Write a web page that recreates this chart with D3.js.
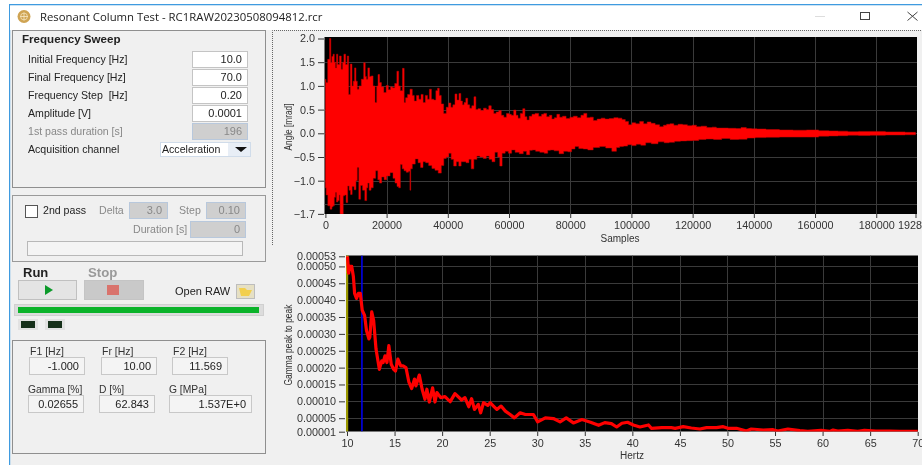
<!DOCTYPE html>
<html><head><meta charset="utf-8">
<script src="https://cdn.jsdelivr.net/npm/d3@7"></script>
<style>
html,body{margin:0;padding:0;background:#fff;overflow:hidden}
svg{display:block;filter:blur(0.45px)}
text{font-family:"Liberation Sans",Arial,sans-serif;font-size:10.5px;fill:#222}
</style></head><body>
<svg id="c" width="922" height="465"></svg>
<script>
// ---------- Angle signal envelope [sample, mrad] ----------
const upperEnvelope=[[0,1.14],[420,1.07],[1090,1.56],[1630,2.0],[1900,1.49],[2300,1.62],[2700,1.67],[3100,1.5],[3480,1.38],[3800,1.67],[4300,1.45],[4900,1.63],[5440,1.35],[5800,1.5],[6300,1.67],[6900,1.45],[7400,1.63],[7800,0.82],[8470,1.46],[8900,1.0],[9300,1.1],[9770,1.38],[10200,1.1],[10640,0.93],[11300,1.0],[12190,1.14],[12840,1.49],[13200,1.2],[13590,1.14],[14150,1.38],[14700,1.2],[15240,1.21],[15900,1.0],[16530,0.65],[17000,1.0],[17400,1.24],[18000,1.07],[18600,0.98],[19580,0.86],[20120,1.01],[21000,0.92],[21600,0.98],[22300,0.96],[23000,1.05],[23720,1.31],[24150,1.0],[24800,0.9],[25580,1.37],[25900,0.65],[26500,0.75],[27200,0.82],[28070,0.93],[28700,0.8],[29370,0.68],[30200,0.8],[30900,0.72],[31570,0.82],[32300,0.65],[33000,0.8],[33700,0.72],[34280,0.93],[35000,0.72],[35800,0.7],[36400,0.9],[36900,0.95],[37500,0.8],[38200,0.62],[39080,0.42],[39900,0.55],[40700,0.64],[41300,0.55],[42000,0.6],[42680,0.83],[43300,0.7],[43990,0.84],[44500,0.68],[45070,0.6],[45600,0.65],[46180,0.74],[46800,0.6],[47480,0.53],[48200,0.58],[48890,0.77],[49440,0.5],[50300,0.52],[51200,0.48],[52150,0.53],[53000,0.5],[53790,0.58],[54600,0.5],[55420,0.42],[56200,0.45],[57060,0.48],[57900,0.38],[58690,0.34],[59670,0.42],[60400,0.4],[61100,0.38],[61960,0.49],[62600,0.38],[63280,0.32],[64100,0.42],[64900,0.52],[65500,0.35],[66200,0.28],[67000,0.36],[68000,0.4],[69060,0.42],[70300,0.36],[71000,0.4],[71770,0.42],[72800,0.35],[73600,0.38],[74400,0.3],[75200,0.33],[76060,0.4],[77000,0.34],[78000,0.36],[79300,0.31],[80500,0.34],[81600,0.36],[83000,0.33],[84000,0.38],[84860,0.42],[86000,0.33],[87000,0.34],[88100,0.27],[89500,0.3],[90700,0.32],[92000,0.3],[93500,0.31],[95000,0.33],[96300,0.32],[97500,0.29],[98500,0.25],[99600,0.18],[100800,0.22],[102000,0.2],[103400,0.25],[104500,0.2],[105800,0.24],[107000,0.21],[108500,0.18],[109900,0.14],[111000,0.17],[112000,0.19],[113200,0.2],[114500,0.17],[116000,0.19],[117500,0.18],[119100,0.16],[120500,0.17],[122000,0.14],[123500,0.15],[125700,0.12],[127000,0.13],[128500,0.11],[130000,0.11],[133300,0.105],[135000,0.1],[136600,0.12],[138500,0.1],[140000,0.095],[142000,0.09],[146000,0.08],[150700,0.07],[155000,0.065],[159400,0.07],[163000,0.055],[166000,0.05],[169000,0.045],[172400,0.035],[176000,0.04],[180000,0.04],[186000,0.03],[192830,0.02]];
const lowerEnvelope=[[0,-1.15],[500,-1.3],[1090,-1.53],[1960,-1.6],[2300,-1.55],[2700,-1.53],[3100,-1.35],[3480,-1.25],[3800,-1.45],[4300,-1.42],[4700,-1.3],[4870,-1.7],[5650,-1.7],[6000,-1.32],[6500,-1.3],[7060,-1.46],[7500,-1.11],[8000,-1.2],[8470,-1.29],[9000,-1.12],[9770,-1.19],[10200,-1.0],[10640,-0.72],[11200,-1.39],[11800,-1.1],[12500,-1.2],[13270,-1.42],[13700,-1.15],[14000,-1.05],[14600,-1.2],[15240,-1.15],[16000,-0.95],[16860,-0.79],[17400,-0.98],[18000,-1.05],[18800,-0.92],[19580,-0.98],[20500,-0.9],[21770,-0.83],[22400,-0.95],[23100,-1.05],[23700,-1.12],[24200,-1.15],[24800,-0.66],[25400,-0.75],[26000,-0.79],[26800,-0.82],[27500,-0.8],[27750,-1.2],[28000,-0.75],[28800,-0.65],[29900,-0.54],[30700,-0.62],[31500,-0.72],[32300,-0.6],[33200,-0.62],[34300,-0.68],[35300,-0.74],[36300,-0.78],[37450,-0.84],[38300,-0.68],[39080,-0.53],[39900,-0.5],[40700,-0.42],[41500,-0.55],[42350,-0.69],[43200,-0.6],[44000,-0.69],[44700,-0.6],[45400,-0.6],[46500,-0.62],[47300,-0.55],[48000,-0.75],[49000,-0.55],[50000,-0.48],[51000,-0.5],[52150,-0.53],[53000,-0.48],[54000,-0.55],[54870,-0.6],[55900,-0.4],[56700,-0.5],[57280,-0.69],[58200,-0.42],[59300,-0.38],[60300,-0.42],[61400,-0.35],[62600,-0.4],[64100,-0.43],[65200,-0.38],[66300,-0.45],[67200,-0.36],[68000,-0.35],[69400,-0.38],[70700,-0.4],[72300,-0.42],[73000,-0.36],[74000,-0.35],[75500,-0.37],[77200,-0.43],[78500,-0.38],[79900,-0.39],[81000,-0.33],[82100,-0.28],[83500,-0.32],[85000,-0.33],[86500,-0.35],[88500,-0.3],[90700,-0.28],[92500,-0.31],[94700,-0.38],[95500,-0.3],[96800,-0.28],[98000,-0.27],[99500,-0.24],[100800,-0.26],[102300,-0.23],[103800,-0.25],[105500,-0.2],[107500,-0.22],[109900,-0.18],[111500,-0.2],[113200,-0.19],[115000,-0.17],[117000,-0.16],[119100,-0.155],[121000,-0.15],[123000,-0.13],[125700,-0.12],[128000,-0.13],[131000,-0.11],[133500,-0.13],[136600,-0.125],[139000,-0.1],[142000,-0.09],[146000,-0.085],[150700,-0.08],[155000,-0.08],[159400,-0.08],[163000,-0.06],[166000,-0.055],[169000,-0.05],[172400,-0.04],[176000,-0.045],[180000,-0.04],[186000,-0.035],[192830,-0.03]];
const angleTicks=[2,1.5,1,0.5,0,-0.5,-1,-1.7];
const angleGrid=[1.5,1,0.5,0,-0.5,-1,-1.5];
const sampleTicks=[0,20000,40000,60000,80000,100000,120000,140000,160000,180000,192830];
// ---------- Gamma curve (Hz, gamma) ----------
const hertz=[10.05,10.17,10.3,10.5,10.67,10.8,11,11.2,11.4,11.6,11.85,12.05,12.3,12.4,12.6,12.8,13.05,13.4,13.65,13.8,14,14.2,14.4,14.65,14.9,15.1,15.35,15.65,15.9,16.2,16.5,16.8,17.1,17.25,17.6,17.9,18.2,18.4,18.65,19,19.25,19.45,19.85,20.3,20.85,21.35,22.05,22.4,22.8,23.1,23.4,23.8,24.05,24.35,24.8,25.05,25.4,25.75,26.2,26.65,27.15,27.6,28.2,28.75,29.6,30.05,30.85,31.7,32.4,33.05,33.8,34.7,35.6,36.45,37.1,37.8,38.35,38.9,39.5,40.1,40.8,41.7,42,43.1,44.1,44.5,45.35,46.2,47.1,47.8,48.85,49.55,50.05,50.95,52,52.5,53.75,54.8,55.3,56.35,57.6,58.45,59.85,60.75,61.1,61.6,62.65,63.7,64.4,65.6,67,68.1,70];
const gamma=[.00053,.00048,.0005,.0005,.00047,.00042,.000405,.00042,.00042,.00037,.000355,.00031,.000285,.00029,.000365,.00034,.000255,.000195,.00022,.000215,.000235,.000215,.000265,.00021,.000195,.00019,.000225,.000205,.000205,.0002,.000158,.000138,.000166,.000146,.000178,.000136,.000106,.000136,.000098,.00014,.000098,.000126,.000111,.000114,.000099,.000123,.000104,.000111,.000084,.000108,.000076,.000091,.000066,.000096,.000088,.000096,.000086,.000076,.000086,.000071,.000061,.000051,.000066,.000061,.000061,.000039,.000051,.000049,.000039,.000051,.000036,.000046,.000038,.000029,.000037,.000034,.000024,.000035,.000038,.00003,.000024,.00003,.00002,.000022,.000022,.00002,.000025,.000021,.000018,.000022,.000022,.000025,.00002,.00002,.000012,.000018,.000015,.000016,.000012,.000018,.000013,.000011,.000014,.000011,.000015,.000012,.000014,.000011,.000014,.000012,.000012,.000011,.000011];
const gammaTicks=[.00053,.0005,.00045,.0004,.00035,.0003,.00025,.0002,.00015,.0001,.00005,.00001];
const gammaGrid=[.0005,.00045,.0004,.00035,.0003,.00025,.0002,.00015,.0001,.00005];
const hertzTicks=[10,15,20,25,30,35,40,45,50,55,60,65,70];
const cursorF1=10, cursorF2=11.569;
// ---------- Panel texts ----------
const windowTitle="Resonant Column Test - RC1RAW20230508094812.rcr";
const sweepLabels=["Initial Frequency [Hz]","Final Frequency [Hz]","Frequency Step  [Hz]","Amplitude [V]","1st pass duration [s]"];
const sweepValues=["10.0","70.0","0.20","0.0001","196"];
const resultTop=[["F1 [Hz]","-1.000"],["Fr [Hz]","10.00"],["F2 [Hz]","11.569"]];
const resultBottom=[["Gamma [%]","0.02655"],["D [%]","62.843"],["G [MPa]","1.537E+0"]];

const svg=d3.select("#c");
const R=(x,y,w,h,f,s)=>svg.append("rect").attr("x",x).attr("y",y).attr("width",w).attr("height",h).attr("fill",f||"none").attr("stroke",s||"none");
const T=(x,y,t,o={})=>svg.append("text").attr("x",x).attr("y",y).text(t)
  .style("fill",o.fill||"#222").style("font-size",(o.size||10.5)+"px").style("font-weight",o.bold?"bold":"normal")
  .style("font-family",o.family||null).style("white-space","pre").attr("text-anchor",o.anchor||"start");
const Box=(x,y,w,h,t,o={})=>{R(x+.5,y+.5,w,h,o.fill||"#fff",o.stroke||"#c4c4c4");
  if(t!==undefined)T(x+w-5,y+h-4,t,{anchor:"end",fill:o.tc||"#222",size:o.size||11});};

// Window chrome
R(9,4,913,461,"#f0f0f0");
R(9,4,913,1.5,"#3f9be0");
R(9,4,1.2,461,"#3f9be0");
R(10,5.5,912,24.5,"#fff");
const ic=svg.append("g").attr("transform","translate(24,16.5)");
ic.append("circle").attr("r",6.5).attr("fill","#cfa453");
ic.append("circle").attr("r",3.4).attr("fill","none").attr("stroke","#f4e3bd").attr("stroke-width",.8);
ic.append("path").attr("d","M-4 0H4M0 -4V4").attr("stroke","#f4e3bd").attr("stroke-width",.9);
T(40,21,windowTitle,{size:11.35,family:"'Open Sans'",fill:"#222"});
svg.append("path").attr("d","M815 16.5H825").attr("stroke","#ddd");
R(860.5,12.5,9,7,"none","#444");
svg.append("path").attr("d","M907.5 12L917.5 20.5M917.5 12L907.5 20.5").attr("stroke","#444");
svg.append("path").attr("d","M272.5 245V30.5H922").attr("fill","none").attr("stroke","#666").attr("stroke-dasharray","1 1");

// Frequency sweep panel
R(12.5,30.5,253,157,"#f0f0f0","#8f8f8f");
T(22,43,"Frequency Sweep",{bold:true,size:11.6});
const rowY=[51,69,87,105,123];
sweepLabels.forEach((l,i)=>{
  T(28,rowY[i]+12,l,{fill:i==4?"#888":"#222",size:10.6});
  Box(192,rowY[i],55,16,sweepValues[i],i==4?{fill:"#cfcfcf",stroke:"#b8c8dc",tc:"#888"}:{});
});
T(28,153,"Acquisition channel",{size:10.6});
R(160.5,142.5,90,14,"#fff","#d0dcea");
R(228,143,22,13,"#e8eef6");
T(162,153,"Acceleration",{size:10.6});
svg.append("path").attr("d","M235 147H247L241 152Z").attr("fill","#111");

// 2nd pass panel
R(12.5,195.5,253,66,"#f0f0f0","#9a9a9a");
R(25.5,205.5,12,12,"#fff","#555");
T(43,214,"2nd pass",{size:10.6});
T(99,214,"Delta",{fill:"#888",size:10.6});
Box(129,202,38,16,"3.0",{fill:"#cfcfcf",stroke:"#b8c8dc",tc:"#888"});
T(179,214,"Step",{fill:"#888",size:10.6});
Box(206,202,39,16,"0.10",{fill:"#cfcfcf",stroke:"#b8c8dc",tc:"#888"});
T(133,233,"Duration [s]",{fill:"#888",size:10.6});
Box(190,221,55,16,"0",{fill:"#cfcfcf",stroke:"#b8c8dc",tc:"#888"});
R(27.5,241.5,215,14,"#f4f4f4","#b8b8b8");

// Run controls
T(23,277,"Run",{bold:true,size:13});
T(88,277,"Stop",{bold:true,size:13.2,fill:"#999"});
R(18.5,280.5,58,19,"#e4e4e4","#c0c0c0");
R(84.5,280.5,59,19,"#c9c9c9","#c4c4c4");
svg.append("path").attr("d","M45 285V295L53 290Z").attr("fill","#0c9a2a");
R(107,285,12,10,"#d9736c");
T(175,295,"Open RAW",{size:11});
R(236.5,284.5,18,14,"#e6e0c4","#bdbdbd");
svg.append("path").attr("d","M239 288H245L247 290H252L249 296H241Z").attr("fill","#f2cf4e");
R(14.5,304.5,249,11,"#dcdcdc","#d0d0d0");
R(18,307,241,6,"#0bb32a");
[18,45].forEach(x=>{R(x,319,20,11,"#e2e2e2");R(x+3,321,14,7,"#16301a");});

// Results panel
R(12.5,340.5,253,113,"#f0f0f0","#8f8f8f");
const topX=[29,101,172], botX=[28,99,169], botW=[55,55,82];
resultTop.forEach((d,i)=>{T(topX[i]+1,355,d[0],{size:10.5,fill:"#333"});Box(topX[i],357,55,17,d[1],{stroke:"#c8c8c8",fill:"#f4f4f4"});});
resultBottom.forEach((d,i)=>{T(botX[i],393,d[0],{size:10.3,fill:"#333"});Box(botX[i],395,botW[i],17,d[1],{stroke:"#c8c8c8",fill:"#f4f4f4"});});

// ---------- Chart helpers ----------
function frame(id,box){
  R(box.x0,box.y0,box.x1-box.x0,box.y1-box.y0,"#000");
  svg.append("clipPath").attr("id",id).append("rect").attr("x",box.x0).attr("y",box.y0).attr("width",box.x1-box.x0).attr("height",box.y1-box.y0);
  return svg.append("g").attr("clip-path",`url(#${id})`);
}
function grid(g,xs,ys,x,y,box){
  g.selectAll(null).data(xs).join("line").attr("x1",d=>Math.round(x(d))+.5).attr("x2",d=>Math.round(x(d))+.5).attr("y1",box.y0).attr("y2",box.y1).attr("stroke","#3a3a3a");
  g.selectAll(null).data(ys).join("line").attr("y1",d=>Math.round(y(d))+.5).attr("y2",d=>Math.round(y(d))+.5).attr("x1",box.x0).attr("x2",box.x1).attr("stroke","#3a3a3a");
}
function styleAxis(a){a.select(".domain").remove();a.selectAll("line").attr("stroke","#333");a.selectAll("text").style("font-size","10.8px").style("fill","#333");}
function vLabel(x,y,t,len){svg.append("text").attr("transform",`translate(${x},${y}) rotate(-90)`).attr("text-anchor","middle").attr("textLength",len).attr("lengthAdjust","spacingAndGlyphs").style("font-size","10px").style("fill","#333").text(t);}

// ---------- Angle chart ----------
const b1={x0:324.5,x1:917,y0:37,y1:214};
const x1=d3.scaleLinear().domain([0,192830]).range([325.4,915.5]);
const y1=d3.scaleLinear().domain([0,1]).range([133.3,85.9]);
const g1=frame("p1",b1);
grid(g1,sampleTicks.slice(1,10),angleGrid,x1,y1,b1);
const line1=d3.line().x(d=>x1(d[0])).y(d=>y1(d[1])).curve(d3.curveStep);
g1.append("path").attr("d",line1(upperEnvelope.concat(lowerEnvelope.slice().reverse()))+"Z").attr("fill","#fe0000").attr("stroke","#c00000").attr("stroke-width",.5);
styleAxis(svg.append("g").attr("transform","translate(324,0)").call(d3.axisLeft(y1).tickValues(angleTicks).tickSize(6).tickSizeOuter(0).tickFormat(d3.format(".1f"))));
styleAxis(svg.append("g").attr("transform","translate(0,214)").call(d3.axisBottom(x1).tickValues(sampleTicks).tickSize(4).tickSizeOuter(0).tickFormat(d3.format("d"))));
T(620,242,"Samples",{anchor:"middle",size:10,fill:"#333"});
vLabel(292,127,"Angle [mrad]",47);

// ---------- Gamma chart ----------
const b2={x0:346,x1:918,y0:255.5,y1:431.5};
const x2=d3.scaleLinear().domain([10,70]).range([347,917.7]);
const y2=d3.scaleLinear().domain([.00001,.00053]).range([431.7,256.3]);
const g2=frame("p2",b2);
grid(g2,hertzTicks.slice(1,12),gammaGrid,x2,y2,b2);
g2.append("line").attr("x1",x2(cursorF1)).attr("x2",x2(cursorF1)).attr("y1",b2.y0).attr("y2",b2.y1).attr("stroke","#9a9800").attr("stroke-width",2.4);
g2.append("line").attr("x1",x2(cursorF1)+.5).attr("x2",x2(cursorF1)+.5).attr("y1",b2.y0).attr("y2",y2(.00048)).attr("stroke","#ffb000").attr("stroke-width",1.8);
g2.append("line").attr("x1",x2(cursorF2)).attr("x2",x2(cursorF2)).attr("y1",b2.y0).attr("y2",b2.y1).attr("stroke","#0000e8").attr("stroke-width",1.6);
const line2=d3.line().x((d,i)=>x2(hertz[i])).y(d=>y2(d));
g2.append("path").attr("d",line2(gamma)).attr("fill","none").attr("stroke","#fe0000").attr("stroke-width",3.2).attr("stroke-linejoin","round");
styleAxis(svg.append("g").attr("transform","translate(345,0)").call(d3.axisLeft(y2).tickValues(gammaTicks).tickSize(6).tickSizeOuter(0).tickFormat(d3.format(".5f"))));
styleAxis(svg.append("g").attr("transform","translate(0,432)").call(d3.axisBottom(x2).tickValues(hertzTicks).tickSize(4).tickSizeOuter(0).tickFormat(d3.format("d"))));
T(632,459,"Hertz",{anchor:"middle",size:10,fill:"#333"});
vLabel(292,345,"Gamma peak to peak",81);
</script></body></html>
